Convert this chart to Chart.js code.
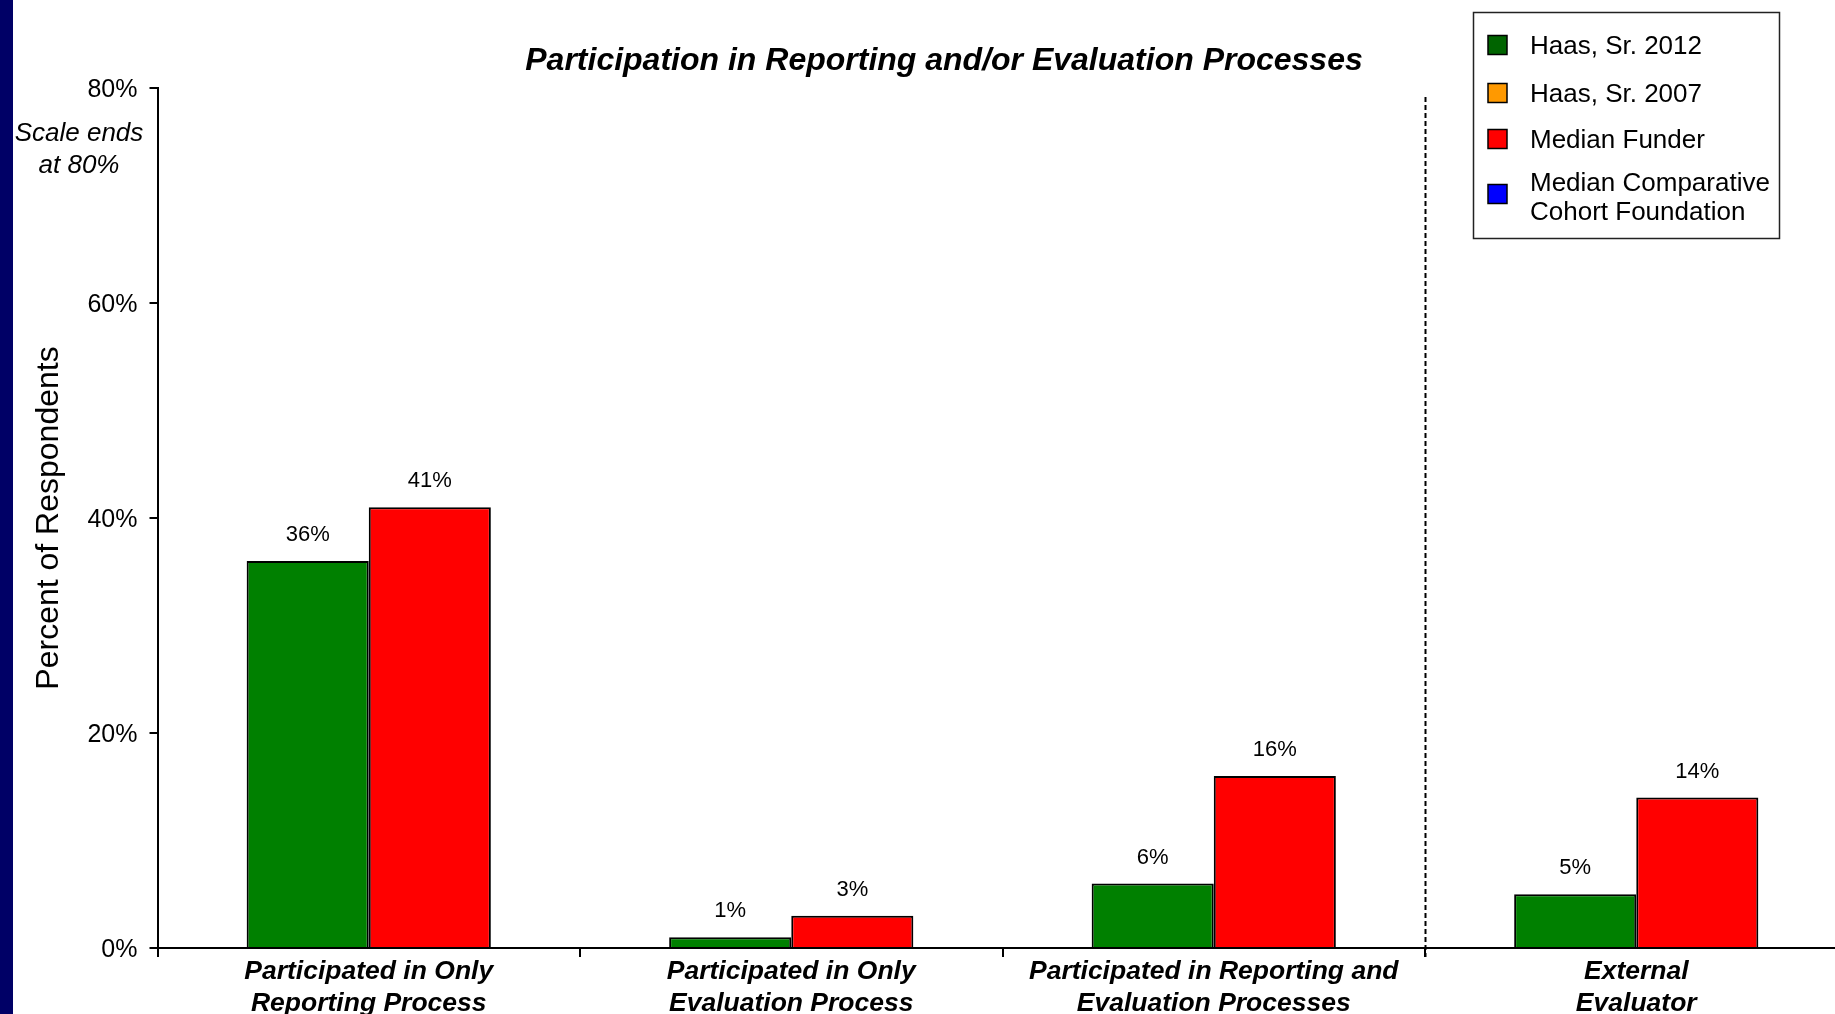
<!DOCTYPE html>
<html>
<head>
<meta charset="utf-8">
<title>Participation in Reporting and/or Evaluation Processes</title>
<script src="https://cdn.jsdelivr.net/npm/chart.js@4.4.1/dist/chart.umd.min.js"></script>
<style>
  html, body { margin: 0; padding: 0; background: #fff; overflow: hidden; }
  #wrap { position: relative; width: 1835px; height: 1014px; overflow: hidden; background: #fff; }
  #strip { position: absolute; left: 0; top: 0; width: 13px; height: 1014px; background: #000066; z-index: 2; }
  #chart { position: absolute; left: 0; top: 0; }
</style>
</head>
<body>
<div id="wrap">
  <div id="strip"></div>
  <canvas id="chart" width="1860" height="1014"></canvas>
</div>
<script>
// ---- data ----
const categories = [
  ['Participated in Only', 'Reporting Process'],
  ['Participated in Only', 'Evaluation Process'],
  ['Participated in Reporting and', 'Evaluation Processes'],
  ['External', 'Evaluator']
];
const seriesNames = ['Haas, Sr. 2012', 'Haas, Sr. 2007', 'Median Funder', 'Median Comparative Cohort Foundation'];
const haas2012 = [36, 1, 6, 5];
const haas2007 = [null, null, null, null];
const medianFunder = [41, 3, 16, 14];
const medianCohort = [null, null, null, null];
const yTicks = [0, 20, 40, 60, 80];
const chartTitle = 'Participation in Reporting and/or Evaluation Processes';
const yTitle = 'Percent of Respondents';
const scaleNote = ['Scale ends', 'at 80%'];

const FONT = "'Liberation Sans', Arial, Helvetica, sans-serif";

function series(label, data, fill, swatch) {
  return {
    label, data,
    backgroundColor: fill,
    swatchColor: swatch,
    borderColor: '#000',
    borderWidth: 2,
    skipNull: true,
    categoryPercentage: 0.578,
    barPercentage: 1.0
  };
}

// value labels above every bar
const valueLabels = {
  id: 'valueLabels',
  afterDatasetsDraw(chart) {
    const ctx = chart.ctx;
    ctx.save();
    ctx.font = '22px ' + FONT;
    ctx.fillStyle = '#000';
    ctx.textAlign = 'center';
    ctx.textBaseline = 'middle';
    chart.data.datasets.forEach((ds, di) => {
      const meta = chart.getDatasetMeta(di);
      meta.data.forEach((bar, i) => {
        const v = ds.data[i];
        if (v === null || v === undefined) return;
        ctx.fillText(Math.round(v) + '%', bar.x, bar.y - 26);
      });
    });
    ctx.restore();
  }
};

// dashed separator before the last category
const divider = {
  id: 'divider',
  afterDatasetsDraw(chart) {
    const x = chart.scales.x;
    const n = chart.data.labels.length;
    const px = (x.getPixelForValue(n - 2) + x.getPixelForValue(n - 1)) / 2;
    const ctx = chart.ctx;
    ctx.save();
    ctx.strokeStyle = '#000';
    ctx.lineWidth = 2;
    ctx.setLineDash([5, 3]);
    ctx.beginPath();
    ctx.moveTo(Math.round(px) + 0.5, 97);
    ctx.lineTo(Math.round(px) + 0.5, chart.chartArea.bottom + 9);
    ctx.stroke();
    ctx.restore();
  }
};

// title, scale note and legend box
const decorations = {
  id: 'decorations',
  afterDraw(chart) {
    const ctx = chart.ctx;
    ctx.save();
    ctx.fillStyle = '#000';
    ctx.textBaseline = 'middle';

    ctx.textAlign = 'center';
    ctx.font = 'italic bold 32px ' + FONT;
    ctx.fillText(chartTitle, 944, 61);

    ctx.font = 'italic 26px ' + FONT;
    scaleNote.forEach((line, i) => ctx.fillText(line, 79, 134 + i * 32));

    // legend
    const box = { left: 1473, top: 12, width: 306, height: 226 };
    ctx.strokeStyle = '#222';
    ctx.lineWidth = 1.5;
    ctx.strokeRect(box.left + 0.5, box.top + 0.5, box.width, box.height);

    ctx.font = '26px ' + FONT;
    ctx.textAlign = 'left';
    const textX = 1530, maxW = 248, lineH = 29;
    const rowTops = [47, 95, 141, 184];
    chart.data.datasets.forEach((ds, k) => {
      const y = rowTops[k];
      const words = ds.label.split(' ');
      const lines = [];
      let cur = '';
      words.forEach(w => {
        const test = cur ? cur + ' ' + w : w;
        if (ctx.measureText(test).width > maxW && cur) { lines.push(cur); cur = w; }
        else cur = test;
      });
      lines.push(cur);
      ctx.fillStyle = '#000';
      lines.forEach((l, i) => ctx.fillText(l, textX, y + i * lineH));
      const cy = y + (lines.length - 1) * lineH / 2 - (lines.length > 1 ? 5 : 2.5);
      ctx.fillStyle = ds.swatchColor;
      ctx.fillRect(1488, cy - 9, 19, 19);
      ctx.strokeStyle = '#000';
      ctx.lineWidth = 1.5;
      ctx.strokeRect(1488, cy - 9, 19, 19);
    });
    ctx.restore();
  }
};

new Chart(document.getElementById('chart'), {
  type: 'bar',
  data: {
    labels: categories,
    datasets: [
      series(seriesNames[0], haas2012, '#008000', '#006400'),
      series(seriesNames[1], haas2007, '#FF9900', '#FF9900'),
      series(seriesNames[2], medianFunder, '#FF0000', '#FF0000'),
      series(seriesNames[3], medianCohort, '#0000FF', '#0000FF')
    ]
  },
  options: {
    responsive: false,
    animation: false,
    layout: { padding: { top: 88, right: 12.5, left: 0, bottom: 0 } },
    plugins: {
      legend: { display: false },
      tooltip: { enabled: false },
      title: { display: false }
    },
    scales: {
      x: {
        offset: true,
        grid: { display: true, drawOnChartArea: false, drawTicks: true, tickLength: 9, color: '#000', lineWidth: 2, offset: true },
        border: { display: true, color: '#000', width: 2 },
        ticks: {
          color: '#000',
          autoSkip: false,
          maxRotation: 0,
          padding: -1,
          font: { family: FONT, size: 26.5, weight: 'bold', style: 'italic', lineHeight: 1.2 }
        },
        afterFit(scale) { scale.height = 66; }
      },
      y: {
        min: 0,
        max: 80,
        afterBuildTicks(scale) { scale.ticks = yTicks.map(v => ({ value: v })); },
        grid: { display: true, drawOnChartArea: false, drawTicks: true, tickLength: 8, color: '#000', lineWidth: 2 },
        border: { display: true, color: '#000', width: 2 },
        ticks: {
          color: '#000',
          padding: 12,
          labelOffset: 2,
          font: { family: FONT, size: 25 },
          callback: v => v + '%'
        },
        title: {
          display: true,
          text: yTitle,
          color: '#000',
          font: { family: FONT, size: 32 },
          padding: { top: 30, bottom: 0 }
        },
        afterFit(scale) { scale.width = 157.5; }
      }
    }
  },
  plugins: [valueLabels, divider, decorations]
});
</script>
</body>
</html>
